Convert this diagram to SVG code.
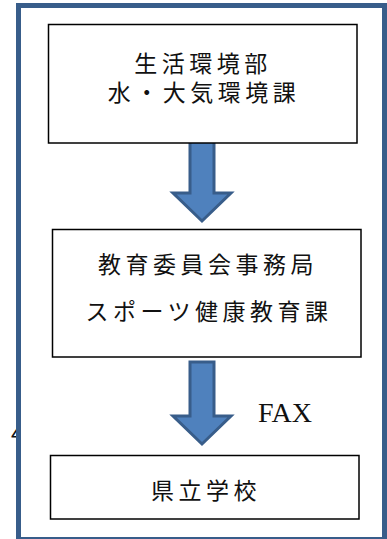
<svg xmlns="http://www.w3.org/2000/svg" width="387" height="539" viewBox="0 0 387 539">
<style>
.box{fill:#fff;stroke:#000;stroke-width:1.5}
.t{font-family:"Noto Sans CJK JP","Liberation Serif",sans-serif;font-size:23px;fill:#111;text-anchor:middle;letter-spacing:4.5px}
.arr{fill:#4F81BD;stroke:#385D8A;stroke-width:3;stroke-linejoin:miter}
.frag{font-family:"Noto Sans CJK JP",sans-serif;font-size:22px;fill:#111}
</style>
<rect width="387" height="539" fill="#fff"/>
<g id="fragments">
<text class="frag" x="-18" y="62">く</text>
<text class="frag" x="11" y="442">4</text>
</g>
<g id="frame">
<rect x="18.5" y="5.5" width="366" height="534" fill="#fff" stroke="#385D8A" stroke-width="5"/>
</g>
<g id="connectors">
<polygon class="arr" points="190,140 214,140 214,193 231,193 202,221 173,193 190,193"/>
<polygon class="arr" points="190,362 214,362 214,416 231,416 202,444 173,416 190,416"/>
<text x="258" y="422" font-family="Liberation Serif,serif" font-size="28" fill="#111">FAX</text>
</g>
<g id="node1">
<rect class="box" x="48.5" y="24.5" width="308.5" height="118.5"/>
<text class="t" x="203" y="72">生活環境部</text>
<text class="t" x="204" y="101">水・大気環境課</text>
</g>
<g id="node2">
<rect class="box" x="52.5" y="229.5" width="308.5" height="127.5"/>
<text class="t" x="208" y="273">教育委員会事務局</text>
<text class="t" x="209" y="320">スポーツ健康教育課</text>
</g>
<g id="node3">
<rect class="box" x="50.5" y="455.5" width="308.5" height="63.5"/>
<text class="t" x="206" y="499">県立学校</text>
</g>
</svg>
